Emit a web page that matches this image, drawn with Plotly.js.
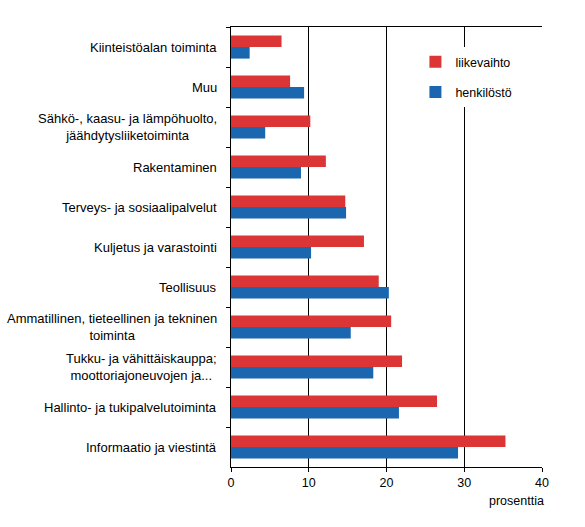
<!DOCTYPE html>
<html>
<head>
<meta charset="utf-8">
<script src="https://cdn.plot.ly/plotly-3.0.1.min.js"></script>
<style>
  body { margin: 0; background: #fff; }
  #chart { width: 585px; height: 527px; }
</style>
</head>
<body>
<div id="chart"></div>
<script>
// Toimialat ylhäältä alas
const categories = [
    "Kiinteistöalan toiminta",
    "Muu",
    "Sähkö-, kaasu- ja lämpöhuolto,<br>jäähdytysliiketoiminta",
    "Rakentaminen",
    "Terveys- ja sosiaalipalvelut",
    "Kuljetus ja varastointi",
    "Teollisuus",
    "Ammatillinen, tieteellinen ja tekninen<br>toiminta",
    "Tukku- ja vähittäiskauppa;<br>moottoriajoneuvojen ja...",
    "Hallinto- ja tukipalvelutoiminta",
    "Informaatio ja viestintä"
];

const liikevaihto = [6.5, 7.6, 10.2, 12.2, 14.7, 17.1, 19.0, 20.6, 22.0, 26.5, 35.3];
const henkilosto  = [2.4, 9.4, 4.4, 9.0, 14.8, 10.3, 20.3, 15.4, 18.3, 21.6, 29.2];

const seriesNames = ["liikevaihto", "henkilöstö"];
const xTicks = [0, 10, 20, 30, 40];

const red = "#dc3536";
const blue = "#1a67b0";
const font = "Liberation Sans, Arial, sans-serif";


// ==========================================================
// TRACES
// ==========================================================

let traces = [
    {
        type: "bar",
        orientation: "h",
        name: seriesNames[0],
        legendgroup: "a",
        x: liikevaihto,
        y: categories,
        marker: { color: red }
    },
    {
        type: "bar",
        orientation: "h",
        name: seriesNames[1],
        legendgroup: "b",
        x: henkilosto,
        y: categories,
        marker: { color: blue }
    }
];


// Y-akselin nimet keskitettyinä annotaatioina
let labelNotes = categories.map(c => ({
    xref: "paper",
    yref: "y",
    x: 0,
    y: c,
    xshift: -12,
    xanchor: "right",
    yanchor: "middle",
    align: "center",
    showarrow: false,
    text: c,
    font: { family: font, size: 13, color: "#000" }
}));

labelNotes.push({
    xref: "paper",
    yref: "paper",
    x: 1,
    y: 0,
    xshift: 4,
    yshift: -34,
    xanchor: "right",
    yanchor: "middle",
    showarrow: false,
    text: "prosenttia",
    font: { family: font, size: 12.5, color: "#000" }
});


// ==========================================================
// LAYOUT
// ==========================================================

let layout = {
    width: 585,
    height: 527,
    margin: { l: 231, r: 43, t: 27, b: 60, pad: 0 },
    paper_bgcolor: "#fff",
    plot_bgcolor: "#fff",
    font: { family: font, size: 12, color: "#000" },
    barmode: "group",
    bargap: 0.42,
    bargroupgap: 0,
    showlegend: true,
    legend: {
        x: 0.593,
        y: 0.954,
        xanchor: "left",
        yanchor: "top",
        bgcolor: "#fff",
        tracegroupgap: 11,
        traceorder: "grouped",
        font: { family: font, size: 12.5, color: "#000" }
    },
    xaxis: {
        range: [0, 40],
        tickvals: xTicks,
        ticktext: xTicks.map(String),
        ticks: "outside",
        ticklen: 4,
        tickcolor: "#000",
        showgrid: true,
        gridcolor: "#000",
        gridwidth: 1,
        zeroline: false,
        showline: true,
        linecolor: "#000",
        linewidth: 1,
        mirror: true,
        tickfont: { family: font, size: 12.5, color: "#000" },
        fixedrange: true
    },
    yaxis: {
        type: "category",
        autorange: "reversed",
        showticklabels: false,
        ticks: "outside",
        tickson: "boundaries",
        ticklen: 4,
        tickcolor: "#000",
        showgrid: false,
        zeroline: false,
        showline: true,
        linecolor: "#000",
        linewidth: 1,
        fixedrange: true
    },
    annotations: labelNotes
};

Plotly.newPlot("chart", traces, layout, { displayModeBar: false, staticPlot: true });
</script>
</body>
</html>
